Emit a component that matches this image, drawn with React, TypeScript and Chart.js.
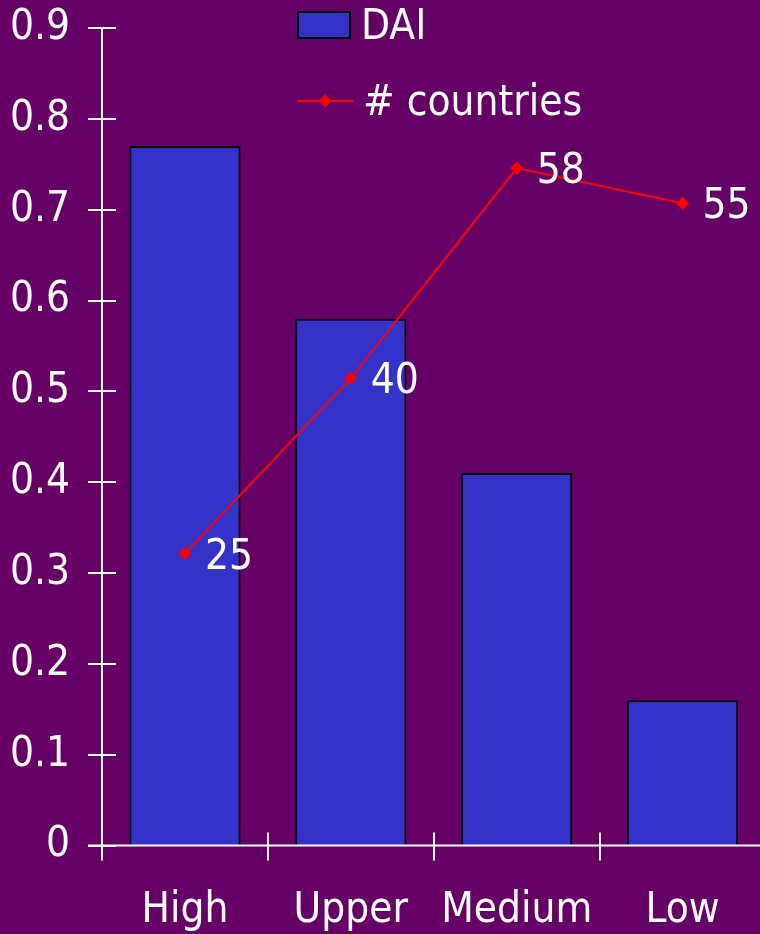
import React, { useEffect, useRef } from 'react';
import { Chart, registerables } from 'chart.js';

Chart.register(...registerables);

const categories = ['High', 'Upper', 'Medium', 'Low'];
const daiValues = [0.77, 0.58, 0.41, 0.16];
const countryCounts = [25, 40, 58, 55];
const yTickLabels = ['0', '0.1', '0.2', '0.3', '0.4', '0.5', '0.6', '0.7', '0.8', '0.9'];
const seriesNames = ['DAI', '# countries'];

const BG = '#660066';
const BAR = '#3333CC';
const LINE = '#FF0000';
const FONT = '"DejaVu Sans Condensed", "DejaVu Sans", sans-serif';
const FONT_SIZE = 42;

const decorPlugin = {
  id: 'decor',
  afterDatasetsDraw(chart: any) {
    const { ctx, chartArea: ca, scales } = chart;
    const x = scales.x;
    const y = scales.y;
    ctx.save();
    // axes
    ctx.strokeStyle = '#FFFFFF';
    ctx.lineWidth = 2;
    ctx.beginPath();
    ctx.moveTo(ca.left, ca.top);
    ctx.lineTo(ca.left, ca.bottom + 15);
    ctx.moveTo(ca.left - 14, ca.bottom);
    ctx.lineTo(ca.right, ca.bottom);
    y.ticks.forEach((_t: any, i: number) => {
      const py = Math.round(y.getPixelForTick(i));
      ctx.moveTo(ca.left - 14, py);
      ctx.lineTo(ca.left + 14, py);
    });
    const half = (x.getPixelForValue(1) - x.getPixelForValue(0)) / 2;
    for (let i = 1; i < categories.length; i++) {
      const px = Math.round(x.getPixelForValue(i) - half);
      ctx.moveTo(px, ca.bottom - 13);
      ctx.lineTo(px, ca.bottom + 15);
    }
    ctx.stroke();

    // data labels for the line
    const meta = chart.getDatasetMeta(0);
    ctx.fillStyle = '#FFFFFF';
    ctx.font = `${FONT_SIZE}px ${FONT}`;
    ctx.textAlign = 'left';
    ctx.textBaseline = 'alphabetic';
    meta.data.forEach((pt: any, i: number) => {
      ctx.fillText(String(countryCounts[i]), pt.x + 20, pt.y + 15);
    });

    // legend
    ctx.fillStyle = BAR;
    ctx.fillRect(298, 12, 52, 26);
    ctx.strokeStyle = '#000000';
    ctx.lineWidth = 2;
    ctx.strokeRect(298, 12, 52, 26);
    ctx.fillStyle = '#FFFFFF';
    ctx.fillText(seriesNames[0], 361, 39);

    ctx.strokeStyle = LINE;
    ctx.lineWidth = 2;
    ctx.beginPath();
    ctx.moveTo(297, 101);
    ctx.lineTo(353, 101);
    ctx.stroke();
    ctx.fillStyle = LINE;
    ctx.beginPath();
    ctx.moveTo(325, 94.5);
    ctx.lineTo(331.5, 101);
    ctx.lineTo(325, 107.5);
    ctx.lineTo(318.5, 101);
    ctx.closePath();
    ctx.fill();
    ctx.fillStyle = '#FFFFFF';
    ctx.fillText(seriesNames[1], 363, 115);
    ctx.restore();
  },
};

export default function App() {
  const ref = useRef<HTMLCanvasElement>(null);

  useEffect(() => {
    if (!ref.current) return;
    const chart = new Chart(ref.current, {
      type: 'bar',
      data: {
        labels: categories,
        datasets: [
          {
            type: 'line',
            label: seriesNames[1],
            data: countryCounts,
            yAxisID: 'y1',
            borderColor: LINE,
            backgroundColor: LINE,
            borderWidth: 2,
            pointStyle: 'rectRot',
            pointRadius: 6.5,
            pointBorderWidth: 0,
            pointBackgroundColor: LINE,
            tension: 0,
            order: 0,
          } as any,
          {
            type: 'bar',
            label: seriesNames[0],
            data: daiValues,
            yAxisID: 'y',
            backgroundColor: BAR,
            borderColor: '#000000',
            borderWidth: 2,
            categoryPercentage: 1,
            barPercentage: 0.67,
            order: 1,
          } as any,
        ],
      },
      options: {
        animation: false,
        responsive: false,
        layout: { padding: { top: 28, right: 0, left: 0, bottom: 0 } },
        plugins: {
          legend: { display: false },
          tooltip: { enabled: false },
        },
        scales: {
          x: {
            grid: { display: false, drawTicks: false },
            border: { display: false },
            ticks: {
              color: '#FFFFFF',
              font: { family: FONT, size: FONT_SIZE },
              padding: 40,
              maxRotation: 0,
              autoSkip: false,
            },
            afterFit: (s: any) => {
              s.height = 88.5;
              s.paddingLeft = 0;
              s.paddingRight = 0;
            },
          },
          y: {
            min: 0,
            max: 0.9,
            grid: { display: false, drawTicks: false },
            border: { display: false },
            ticks: {
              stepSize: 0.1,
              color: '#FFFFFF',
              font: { family: FONT, size: FONT_SIZE },
              padding: 32,
              callback: (_v: any, i: number) => yTickLabels[i],
            },
            afterFit: (s: any) => {
              s.width = 102;
              s.paddingTop = 0;
              s.paddingBottom = 0;
            },
          },
          y1: {
            position: 'right',
            min: 0,
            max: 70,
            display: false,
          },
        },
      } as any,
      plugins: [decorPlugin],
    });
    return () => chart.destroy();
  }, []);

  return (
    <div
      style={{
        position: 'fixed',
        left: 0,
        top: 0,
        width: 760,
        height: 934,
        overflow: 'hidden',
        background: BG,
      }}
    >
      <canvas ref={ref} width={772} height={934} style={{ width: 772, height: 934, display: 'block' }} />
    </div>
  );
}
